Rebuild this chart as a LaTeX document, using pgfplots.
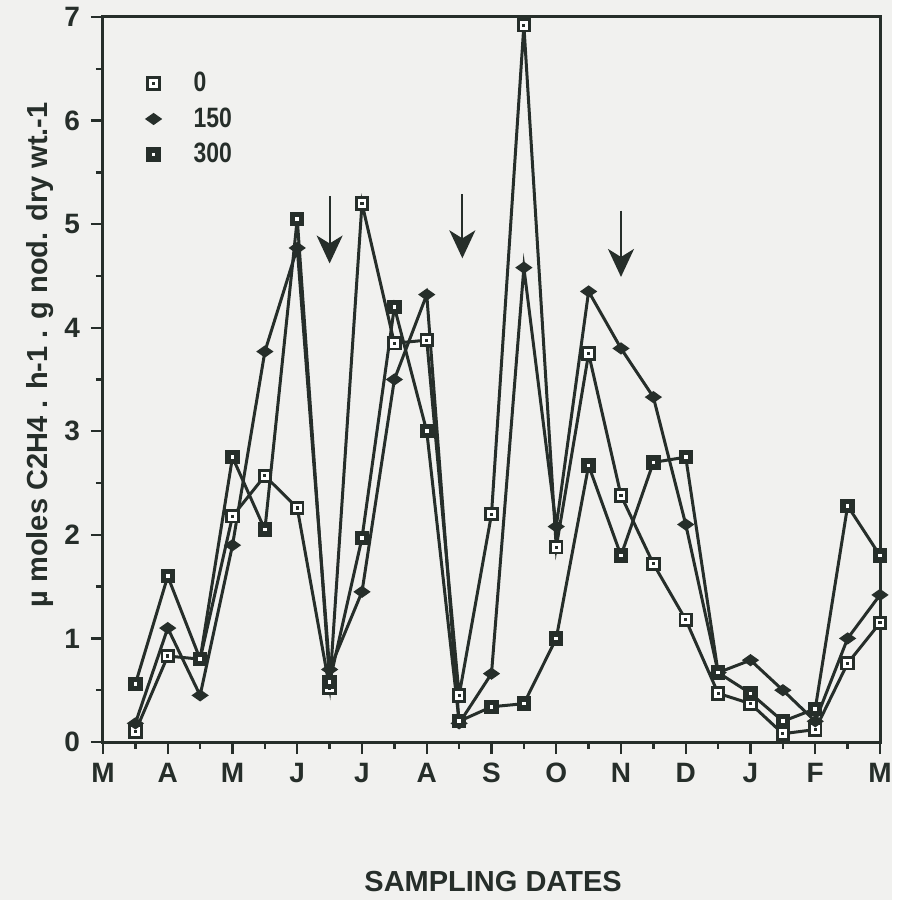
\documentclass[border=0pt]{standalone}
\usepackage{fontspec}
\setmainfont{Liberation Sans}
\newfontfamily\narrowfont{Liberation Sans}[FakeStretch=0.82]
\usepackage{pgfplots}
\pgfplotsset{compat=1.18}
\usetikzlibrary{arrows.meta}

\definecolor{ink}{RGB}{38,46,42}
\definecolor{paper}{RGB}{241,241,239}

% open square: dark rim, white inside, dot in the middle
\pgfdeclareplotmark{opensq}{%
  \pgfpathrectangle{\pgfqpoint{-\pgfplotmarksize}{-\pgfplotmarksize}}{\pgfqpoint{2\pgfplotmarksize}{2\pgfplotmarksize}}%
  \pgfsetfillcolor{ink}\pgfusepathqfill
  \pgfpathrectangle{\pgfqpoint{-0.6\pgfplotmarksize}{-0.6\pgfplotmarksize}}{\pgfqpoint{1.2\pgfplotmarksize}{1.2\pgfplotmarksize}}%
  \pgfsetfillcolor{white}\pgfusepathqfill
  \pgfpathrectangle{\pgfqpoint{-0.22\pgfplotmarksize}{-0.22\pgfplotmarksize}}{\pgfqpoint{0.44\pgfplotmarksize}{0.44\pgfplotmarksize}}%
  \pgfsetfillcolor{ink}\pgfusepathqfill}
% full square: dark with small white dot
\pgfdeclareplotmark{fullsq}{%
  \pgfpathrectangle{\pgfqpoint{-\pgfplotmarksize}{-\pgfplotmarksize}}{\pgfqpoint{2\pgfplotmarksize}{2\pgfplotmarksize}}%
  \pgfsetfillcolor{ink}\pgfusepathqfill
  \pgfpathrectangle{\pgfqpoint{-0.25\pgfplotmarksize}{-0.25\pgfplotmarksize}}{\pgfqpoint{0.5\pgfplotmarksize}{0.5\pgfplotmarksize}}%
  \pgfsetfillcolor{white}\pgfusepathqfill}
% wide diamond
\pgfdeclareplotmark{wdiam}{%
  \pgfpathmoveto{\pgfqpoint{-1.2\pgfplotmarksize}{0pt}}%
  \pgfpathlineto{\pgfqpoint{0pt}{0.85\pgfplotmarksize}}%
  \pgfpathlineto{\pgfqpoint{1.2\pgfplotmarksize}{0pt}}%
  \pgfpathlineto{\pgfqpoint{0pt}{-0.85\pgfplotmarksize}}%
  \pgfpathclose
  \pgfsetfillcolor{ink}\pgfusepathqfill}

\begin{document}
\begin{tikzpicture}
\fill[paper] (-51.5pt,-79pt) rectangle (394.5pt,371pt);
\begin{axis}[
  at={(0,0)}, anchor=origin,
  scale only axis, width=388.5pt, height=362.5pt,
  xmin=0, xmax=24, ymin=0, ymax=7,
  clip=false,
  axis line style={ink, line width=1.5pt},
  xtick={0,2,...,24},
  xticklabels={M,A,M,J,J,A,S,O,N,D,J,F,M},
  minor xtick={1,3,...,23},
  ytick={0,1,...,7},
  minor ytick={0.5,1.5,...,6.5},
  tick pos=left, tick align=outside,
  major tick length=6pt, minor tick length=3.5pt,
  every tick/.append style={ink, line width=1.2pt},
  tick label style={font=\bfseries\fontsize{14}{16}\selectfont, text=ink},
  /pgf/number format/assume math mode=true,
  xticklabel style={yshift=-1pt},
  yticklabel style={xshift=-2pt},
  xlabel={SAMPLING DATES},
  ylabel={µ moles C2H4 . h-1 . g nod. dry wt.-1},
  label style={font=\bfseries\fontsize{14.5}{16}\selectfont, text=ink},
  xlabel style={at={(axis description cs:0.502,-0.193)}, anchor=center},
  ylabel style={at={(axis description cs:-0.081,0.534)}, anchor=center},
  legend style={at={(axis description cs:0.044,0.93)}, anchor=north west,
    draw=none, fill=none, inner sep=0pt, row sep=2.5pt,
    font=\narrowfont\bfseries\fontsize{14}{16}\selectfont, text=ink},
  legend cell align=left,
  legend image code/.code={\path[draw=none,fill=none] (-8pt,-5pt) rectangle (18pt,5pt);
    \draw[#1] plot coordinates {(0pt,0pt)};},
]
\addplot[ink, line width=1.5pt, mark=opensq, mark size=3.6pt] table {
x y
1 0.10
2 0.83
3 0.80
4 2.18
5 2.57
6 2.26
7 0.52
8 5.20
9 3.85
10 3.88
11 0.45
12 2.20
13 6.92
14 1.88
15 3.75
16 2.38
17 1.72
18 1.18
19 0.47
20 0.37
21 0.08
22 0.12
23 0.76
24 1.15
};
\addlegendentry{0}
\addplot[ink, line width=1.5pt, mark=wdiam, mark size=3.6pt] table {
x y
1 0.18
2 1.10
3 0.45
4 1.90
5 3.77
6 4.77
7 0.70
8 1.45
9 3.50
10 4.32
11 0.18
12 0.66
13 4.58
14 2.08
15 4.35
16 3.80
17 3.33
18 2.10
19 0.67
20 0.79
21 0.50
22 0.20
23 1.00
24 1.42
};
\addlegendentry{150}
\addplot[ink, line width=1.5pt, mark=fullsq, mark size=3.6pt] table {
x y
1 0.56
2 1.60
3 0.80
4 2.75
5 2.05
6 5.05
7 0.58
8 1.97
9 4.20
10 3.00
11 0.20
12 0.34
13 0.37
14 1.00
15 2.67
16 1.80
17 2.70
18 2.75
19 0.67
20 0.47
21 0.20
22 0.32
23 2.28
24 1.80
};
\addlegendentry{300}
\draw[ink, line width=1pt, -{Stealth[length=14pt,width=13pt,inset=4pt]}] (axis cs:7,5.27) -- (axis cs:7,4.62);
\draw[ink, line width=1pt, -{Stealth[length=14pt,width=13pt,inset=4pt]}] (axis cs:11.1,5.29) -- (axis cs:11.1,4.67);
\draw[ink, line width=1pt, -{Stealth[length=14pt,width=13pt,inset=4pt]}] (axis cs:16,5.13) -- (axis cs:16,4.49);
\end{axis}
\end{tikzpicture}
\end{document}
